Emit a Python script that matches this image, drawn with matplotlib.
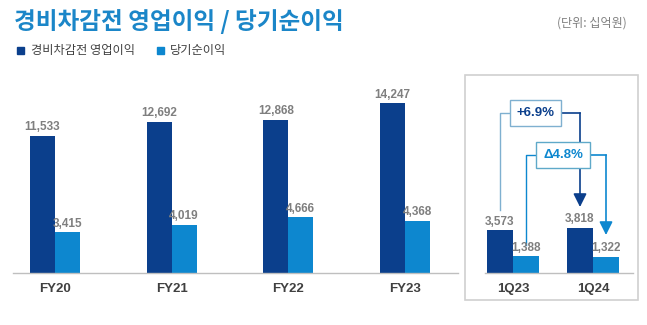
import matplotlib.pyplot as plt
import matplotlib.patches as mpatches
import numpy as np

plt.rcParams['font.family'] = ['Noto Sans CJK KR', 'DejaVu Sans']

# data (단위: 십억원)
years = ['FY20', 'FY21', 'FY22', 'FY23']
op_income_y = [11533, 12692, 12868, 14247]
net_income_y = [3415, 4019, 4666, 4368]

quarters = ['1Q23', '1Q24']
op_income_q = [3573, 3818]
net_income_q = [1388, 1322]
op_change = '+6.9%'
net_change = 'Δ4.8%'

NAVY = '#0b3f8c'
BLUE = '#0d87cf'
GRAY = '#7f7f7f'
DARK = '#404040'
NUM_FONT = ['Liberation Sans', 'DejaVu Sans']

W, H = 647, 325
fig = plt.figure(figsize=(W / 100, H / 100), dpi=100)


def fx(px):
    return px / W


def fy(py):
    return 1 - py / H


base = 273
top = 90
scale = 0.0119  # px per unit
ymax = (base - top) / scale

# main chart
ax1 = fig.add_axes([fx(13), fy(base), fx(458) - fx(13), fy(top) - fy(base)])
x1 = np.arange(len(years))
bw1 = 25 / 116.7
ax1.bar(x1 - bw1 / 2, op_income_y, bw1, color=NAVY)
ax1.bar(x1 + bw1 / 2, net_income_y, bw1, color=BLUE)
ax1.set_xlim(-0.36, 3.454)

# quarterly chart
ax2 = fig.add_axes([fx(485), fy(base), fx(633) - fx(485), fy(top) - fy(base)])
x2 = np.arange(len(quarters))
bw2 = 26 / 80
ax2.bar(x2 - bw2 / 2, op_income_q, bw2, color=NAVY)
ax2.bar(x2 + bw2 / 2, net_income_q, bw2, color=BLUE)
ax2.set_xlim(-0.35, 1.5)

for ax, xs, bw, a, b, labels in [(ax1, x1, bw1, op_income_y, net_income_y, years),
                                  (ax2, x2, bw2, op_income_q, net_income_q, quarters)]:
    ax.set_ylim(0, ymax)
    for s in ['top', 'right', 'left']:
        ax.spines[s].set_visible(False)
    ax.spines['bottom'].set_color('#bfbfbf')
    ax.spines['bottom'].set_linewidth(1)
    ax.set_yticks([])
    ax.set_xticks(xs)
    ax.set_xticklabels(labels, fontsize=9.5, fontweight='bold', color=DARK, family=NUM_FONT)
    ax.tick_params(axis='x', length=0, pad=7)
    for xi, v in zip(xs, a):
        ax.annotate(f'{v:,}', (xi - bw / 2, v), xytext=(0, 2), textcoords='offset points',
                    ha='center', va='bottom', fontsize=8.5, color=GRAY, fontweight='bold',
                    family=NUM_FONT)
    for xi, v in zip(xs, b):
        ax.annotate(f'{v:,}', (xi + bw / 2, v), xytext=(0, 2), textcoords='offset points',
                    ha='center', va='bottom', fontsize=8.5, color=GRAY, fontweight='bold',
                    family=NUM_FONT)


# connectors in quarterly panel
def dy(py):
    return (base - py) / scale


d0, d1 = x2[0] - bw2 / 2, x2[1] - bw2 / 2
l0, l1 = x2[0] + bw2 / 2, x2[1] + bw2 / 2
y_op, y_net = dy(113), dy(155)
LINE_LIGHT = '#7fb0d0'
arrow = '-|>,head_length=0.8,head_width=0.4'

ax2.plot([d0, d0, 0.15], [dy(210), y_op, y_op], color=LINE_LIGHT, lw=1, clip_on=False)
ax2.plot([0.5, d1], [y_op, y_op], color=NAVY, lw=1.2, clip_on=False)
ax2.annotate('', xy=(d1, dy(207)), xytext=(d1, y_op),
             arrowprops=dict(arrowstyle=arrow, color=NAVY, lw=1.2, shrinkA=0, shrinkB=0),
             annotation_clip=False)
ax2.plot([l0, l0, 0.45], [dy(245), y_net, y_net], color=BLUE, lw=1, clip_on=False)
ax2.plot([0.8, l1], [y_net, y_net], color=BLUE, lw=1.2, clip_on=False)
ax2.annotate('', xy=(l1, dy(235)), xytext=(l1, y_net),
             arrowprops=dict(arrowstyle=arrow, color=BLUE, lw=1.2, shrinkA=0, shrinkB=0),
             annotation_clip=False)

ax2.text((535.5 - 513) / 80, y_op, op_change, ha='center', va='center',
         fontsize=9.5, fontweight='bold', color=NAVY, family=NUM_FONT,
         bbox=dict(boxstyle='square,pad=0.5', fc='white', ec=LINE_LIGHT, lw=1), zorder=5,
         clip_on=False)
ax2.text((563 - 513) / 80, y_net, net_change, ha='center', va='center',
         fontsize=9.5, fontweight='bold', color=BLUE, family=NUM_FONT,
         bbox=dict(boxstyle='square,pad=0.5', fc='white', ec='#5fa9c9', lw=1), zorder=5,
         clip_on=False)

# frame around quarterly panel
fig.patches.append(mpatches.Rectangle((fx(465), fy(300)), fx(638) - fx(465), fy(75) - fy(300),
                                      transform=fig.transFigure, fill=False,
                                      ec='#d0d0d0', lw=1.2))

# title, legend, unit
fig.text(fx(14), fy(21), '경비차감전 영업이익 / 당기순이익', fontsize=17, fontweight='bold',
         color='#1b86c8', va='center', ha='left')
fig.text(fx(627), fy(23), '(단위: 십억원)', fontsize=8.7, color=GRAY, va='center', ha='right')

fig.patches.append(mpatches.Rectangle((fx(17), fy(54)), fx(7), 7 / H, transform=fig.transFigure,
                                      color=NAVY))
fig.text(fx(31), fy(50.5), '경비차감전 영업이익', fontsize=8.8, color=DARK, va='center', ha='left')
fig.patches.append(mpatches.Rectangle((fx(157), fy(54)), fx(7), 7 / H, transform=fig.transFigure,
                                      color=BLUE))
fig.text(fx(170), fy(50.5), '당기순이익', fontsize=8.8, color=DARK, va='center', ha='left')

fig.savefig('out.png', dpi=100)
